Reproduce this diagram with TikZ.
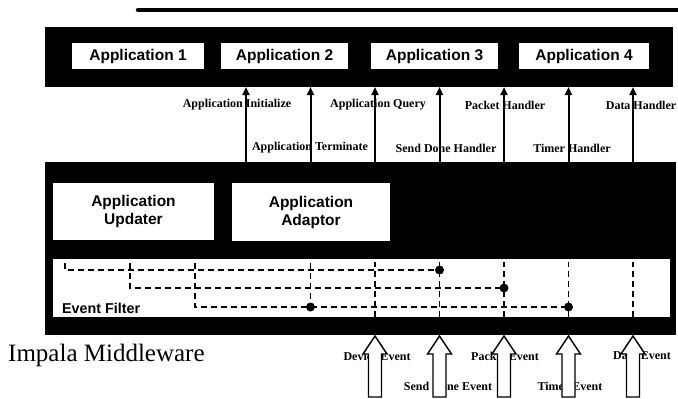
\documentclass[tikz,border=0pt]{standalone}
\usepackage{fontspec}
\setmainfont{Liberation Serif}
\setsansfont{Liberation Sans}
\usetikzlibrary{arrows.meta,positioning}

\tikzset{
  blackbox/.style={fill=black, draw=none, inner sep=0pt},
  appbox/.style={fill=white, draw=none, inner sep=0pt, align=center,
    font=\fontsize{15.5}{18}\selectfont\sffamily\bfseries},
  calllabel/.style={inner sep=0pt, font=\fontsize{12}{13}\selectfont\bfseries},
  callarrow/.style={line width=2pt, -{Triangle[length=8pt,width=7pt]}},
  filterline/.style={line width=1.6pt, dash pattern=on 6pt off 4pt},
  hollowarrow/.style={draw=black, fill=white, line width=1.4pt, line join=miter},
}

\begin{document}
\begin{tikzpicture}[x=1pt, y=-1pt]
  \useasboundingbox (0,0) rectangle (678,399);
  % top rule
  \draw[line width=4.5pt, line cap=round] (138,10) -- (678,10);
  % application layer
  \node[blackbox, minimum width=628pt, minimum height=60pt] (applayer) at (359,57) {};
  \node[appbox, minimum width=132pt, minimum height=26pt] (app1) at (138,56) {Application 1};
  \node[appbox, minimum width=127pt, minimum height=26pt] (app2) at (284.5,56) {Application 2};
  \node[appbox, minimum width=127pt, minimum height=26pt] (app3) at (434.5,56) {Application 3};
  \node[appbox, minimum width=130pt, minimum height=26pt] (app4) at (584,56) {Application 4};
  % middleware layer
  \node[blackbox, minimum width=631pt, minimum height=173pt] (mwlayer) at (360.5,248.5) {};
  \node[appbox, minimum width=161pt, minimum height=57pt] (updater) at (133.5,211.5) {Application\\Updater};
  \node[appbox, minimum width=158pt, minimum height=58pt] (adaptor) at (311,212) {Application\\Adaptor};
  \node[blackbox, fill=white, minimum width=617pt, minimum height=58pt] (filter) at (361.5,288) {};
  \node[appbox, fill=none, anchor=west, font=\fontsize{14.3}{16}\selectfont\sffamily\bfseries] (filtername) at (62,308) {Event Filter};
  \node[anchor=west, inner sep=0pt, font=\fontsize{25}{28}\selectfont] (impala) at (8,355) {Impala Middleware};

  % handler labels
  \node[calllabel] (lbinit) at (237,105) {Application Initialize};
  \node[calllabel] (lbquery) at (378,105) {Application Query};
  \node[calllabel] (lbpacket) at (505,105) {Packet Handler};
  \node[calllabel] (lbdata) at (641,105) {Data Handler};
  \node[calllabel] (lbterm) at (310,148) {Application Terminate};
  \node[calllabel] (lbsend) at (446,148) {Send Done Handler};
  \node[calllabel] (lbtimer) at (572,148) {Timer Handler};

  % event labels
  \node[calllabel] (lbdevev) at (377,356) {Device Event};
  \node[calllabel] (lbpackev) at (505,356) {Packet Event};
  \node[calllabel] (lbdataev) at (642,356) {Data Event};
  \node[calllabel] (lbsendev) at (448,386) {Send Done Event};
  \node[calllabel] (lbtimeev) at (570,386) {Timer Event};

  % handler calls up to the applications
  \foreach \x [count=\i] in {246,310.5,375,439.5,504,568.5,633} {
    \coordinate (low\i) at (\x,162);
    \coordinate (up\i) at (\x,87);
    \draw[callarrow] (low\i) -- (up\i);
  }

  % event filter
  \draw[filterline] (65,263) -- (65,270) -- (439.5,270);
  \draw[filterline] (130,263) -- (130,288) -- (504,288);
  \draw[filterline] (195,263) -- (195,307) -- (568.5,307);
  \draw[filterline] (310.5,263) -- (310.5,307);
  \foreach \x in {375,439.5,504,568.5,633}
    \draw[filterline] (\x,317) -- (\x,262);
  \foreach \x/\y in {439.5/270,504/288,568.5/307,310.5/307}
    \fill (\x,\y) circle (4.5pt);

  % incoming events
  \foreach \x in {375,439.5,504,568.5,633}
    \draw[hollowarrow, shift={(\x,0)}] (-6.5,397) -- (-6.5,354) -- (-12,354) -- (0,336)
      -- (12,354) -- (6.5,354) -- (6.5,397) -- cycle;
\end{tikzpicture}
\end{document}
